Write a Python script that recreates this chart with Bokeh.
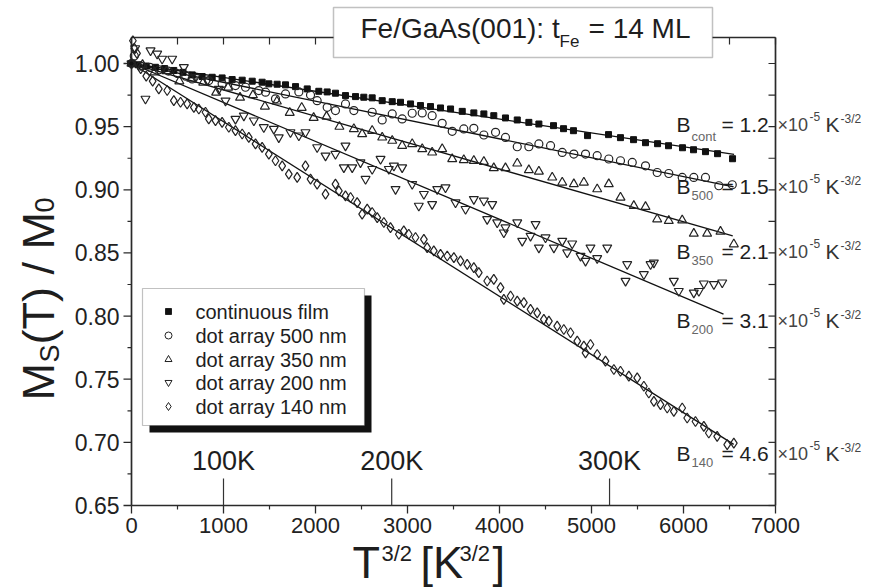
import math
from bokeh.plotting import figure
from bokeh.models import Range1d, Label, BoxAnnotation
from bokeh.core.properties import value
from bokeh.embed import file_html
from bokeh.resources import INLINE

# ---------------- data ----------------
cont_T = [0, 70, 160, 260, 360, 460, 560, 660, 768, 877, 985, 1094, 1203, 1312, 1420, 1493, 1583,
          1674, 1783, 1910, 2036, 2127, 2217, 2326, 2435, 2525, 2616, 2725, 2834, 2924, 3033, 3141,
          3250, 3359, 3468, 3595, 3721, 3830, 3938, 4065, 4193, 4319, 4428, 4587, 4696, 4804, 4957,
          5185, 5315, 5457, 5587, 5718, 5837, 5989, 6109, 6239, 6370, 6533]
cont_M = [1.000, 0.999, 0.998, 0.997, 0.996, 0.9945, 0.993, 0.991, 0.9897, 0.9891, 0.9886, 0.9873,
          0.9868, 0.9860, 0.9852, 0.9839, 0.9836, 0.9831, 0.9817, 0.9799, 0.9780, 0.9775, 0.9765,
          0.9746, 0.9738, 0.9733, 0.9728, 0.9706, 0.9698, 0.9693, 0.9680, 0.9667, 0.9659, 0.9648,
          0.9640, 0.9621, 0.9609, 0.9601, 0.9587, 0.9569, 0.9553, 0.9534, 0.9521, 0.9508, 0.9484,
          0.9468, 0.9429, 0.9437, 0.9413, 0.9397, 0.9373, 0.9365, 0.9349, 0.9333, 0.9317, 0.9302,
          0.9286, 0.9246]

d500_T = [0, 30, 100, 200, 300, 400, 500, 590, 659, 840, 985, 1130, 1239, 1384, 1457, 1565, 1674,
          1819, 1946, 2018, 2127, 2217, 2326, 2417, 2616, 2725, 2834, 2942, 3051, 3160, 3268, 3377,
          3486, 3612, 3721, 3830, 3957, 4065, 4193, 4319, 4428, 4555, 4682, 4808, 4935, 5062, 5188,
          5315, 5443, 5587, 5714, 5840, 5986, 6112, 6239, 6384, 6530]
d500_M = [1.000, 1.006, 0.998, 0.997, 0.995, 0.994, 0.992, 0.990, 0.9878, 0.9865, 0.9839, 0.9825,
          0.9812, 0.9786, 0.9773, 0.9720, 0.9759, 0.9775, 0.9750, 0.9706, 0.9653, 0.9627, 0.9680,
          0.9627, 0.9614, 0.9553, 0.9601, 0.9561, 0.9606, 0.9609, 0.9587, 0.9526, 0.9463, 0.9482,
          0.9487, 0.9434, 0.9455, 0.9415, 0.9341, 0.9341, 0.9363, 0.9349, 0.9296, 0.9283, 0.9283,
          0.9270, 0.9244, 0.9230, 0.9217, 0.9190, 0.9137, 0.9129, 0.9098, 0.9098, 0.9098, 0.9032,
          0.9040]

d350_T = [0, 120, 250, 380, 520, 650, 780, 920, 1050, 1180, 1320, 1450, 1580, 1720, 1850, 1980,
          2120, 2260, 2417, 2507, 2616, 2725, 2834, 2942, 3051, 3160, 3268, 3377, 3486, 3612, 3721,
          3830, 3938, 4065, 4193, 4319, 4428, 4573, 4682, 4808, 4917, 5062, 5188, 5315, 5460, 5587,
          5714, 5840, 5986, 6112, 6257, 6402, 6547]
d350_M = [1.000, 0.999, 0.993, 0.994, 0.986, 0.988, 0.985, 0.977, 0.981, 0.973, 0.975, 0.966,
          0.970, 0.961, 0.965, 0.957, 0.958, 0.950, 0.9482, 0.9442, 0.9468, 0.9415, 0.9389, 0.9349,
          0.9363, 0.9323, 0.9296, 0.9323, 0.9244, 0.9236, 0.9230, 0.9222, 0.9172, 0.9172, 0.9209,
          0.9156, 0.9145, 0.9098, 0.9058, 0.9045, 0.9058, 0.9005, 0.9045, 0.8939, 0.8873, 0.8865,
          0.8767, 0.8754, 0.8759, 0.8653, 0.8653, 0.8669, 0.8569]

d200_T = [0, 40, 152, 207, 279, 333, 442, 569, 696, 823, 949, 1022, 1130, 1221, 1330, 1438, 1547,
          1601, 1728, 1819, 1891, 2018, 2109, 2217, 2308, 2326, 2399, 2489, 2544, 2616, 2707, 2797,
          2852, 2870, 2942, 3051, 3123, 3178, 3268, 3323, 3413, 3522, 3631, 3721, 3830, 3866, 3921,
          3975, 4047, 4065, 4193, 4247, 4337, 4392, 4428, 4500, 4591, 4682, 4736, 4790, 4881, 4935,
          4989, 5062, 5171, 5370, 5388, 5569, 5642, 5678, 5895, 5949, 6112, 6167, 6221, 6330, 6421]
d200_M = [1.000, 1.012, 0.972, 1.0103, 1.0077, 1.0037, 1.0037, 0.9971, 0.9891, 0.9865, 0.9799,
          0.9706, 0.9561, 0.9587, 0.9548, 0.9495, 0.9482, 0.9415, 0.9455, 0.9429, 0.9455, 0.9336,
          0.9270, 0.9283, 0.9177, 0.9349, 0.9177, 0.9217, 0.9085, 0.9164, 0.9244, 0.9164, 0.9190,
          0.9005, 0.9177, 0.9045, 0.8873, 0.8966, 0.8886, 0.9005, 0.9018, 0.8899, 0.8847, 0.8926,
          0.8913, 0.8767, 0.8886, 0.8741, 0.8661, 0.8701, 0.8741, 0.8595, 0.8635, 0.8728, 0.8542,
          0.8622, 0.8542, 0.8595, 0.8503, 0.8574, 0.8476, 0.8437, 0.8542, 0.8458, 0.8542, 0.8278,
          0.8410, 0.8331, 0.8410, 0.8423, 0.8278, 0.8198, 0.8185, 0.8198, 0.8257, 0.8252, 0.8265]

d140_T = [0, 15, 30, 60, 100, 160, 230, 297, 388, 460, 533, 605, 678, 732, 804, 840, 913, 985, 1058,
          1130, 1203, 1275, 1348, 1420, 1493, 1565, 1638, 1710, 1801, 1891, 1946, 2018, 2109, 2217,
          2254, 2326, 2381, 2453, 2507, 2562, 2616, 2671, 2743, 2815, 2906, 2960, 3014, 3087, 3178,
          3214, 3286, 3359, 3432, 3504, 3576, 3649, 3721, 3775, 3866, 3938, 4011, 4047, 4120, 4193,
          4265, 4337, 4410, 4482, 4537, 4627, 4699, 4772, 4845, 4917, 4935, 4989, 5062, 5152, 5243,
          5315, 5406, 5497, 5569, 5623, 5678, 5750, 5823, 5895, 5986, 6040, 6130, 6221, 6275, 6366,
          6475, 6547]
d140_M = [1.000, 1.018, 1.012, 1.008, 0.996, 0.990, 0.986, 0.9799, 0.9786, 0.9706, 0.9693, 0.9680,
          0.9653, 0.9640, 0.9614, 0.9561, 0.9548, 0.9534, 0.9495, 0.9468, 0.9442, 0.9415, 0.9363,
          0.9336, 0.9283, 0.9230, 0.9190, 0.9124, 0.9098, 0.9190, 0.9085, 0.9045, 0.8966, 0.9045,
          0.8992, 0.8952, 0.8939, 0.8899, 0.8807, 0.8847, 0.8820, 0.8780, 0.8741, 0.8701, 0.8648,
          0.8675, 0.8648, 0.8622, 0.8608, 0.8542, 0.8516, 0.8489, 0.8476, 0.8463, 0.8437, 0.8410,
          0.8384, 0.8344, 0.8278, 0.8291, 0.8225, 0.8132, 0.8159, 0.8119, 0.8106, 0.8053, 0.8026,
          0.7974, 0.7960, 0.7921, 0.7894, 0.7868, 0.7802, 0.7762, 0.7709, 0.7775, 0.7696, 0.7643,
          0.7577, 0.7563, 0.7524, 0.7510, 0.7444, 0.7391, 0.7325, 0.7299, 0.7272, 0.7246, 0.7272,
          0.7193, 0.7165, 0.7127, 0.7074, 0.7048, 0.6982, 0.6994]

# fitted lines M = 1 - B T^{3/2}: end points as drawn
fit_names = ["cont", "500", "350", "200", "140"]
fit_B = ["1.2", "1.5", "2.1", "3.1", "4.6"]
fit_T_end = [6550, 6545, 6535, 6435, 6545]
fit_M_end = [0.928, 0.9024, 0.8635, 0.8016, 0.6984]

legend_names = ["continuous film", "dot array 500 nm", "dot array 350 nm",
                "dot array 200 nm", "dot array 140 nm"]
kelvin_marks = [100, 200, 300]

x_ticks = [0, 1000, 2000, 3000, 4000, 5000, 6000, 7000]
x_minor = [500, 1500, 2500, 3500, 4500, 5500, 6500]
y_ticks = [0.65, 0.70, 0.75, 0.80, 0.85, 0.90, 0.95, 1.00]
y_minor = [0.675, 0.725, 0.775, 0.825, 0.875, 0.925, 0.975, 1.000]

# ---------------- layout ----------------
W, H = 870, 588
FL, FR, FT, FB = 131, 775, 37, 505          # plot-box edges in pixels
X0, X1 = 0, 7000
Y0, Y1 = 0.65, 1.0206
FONT = "Liberation Sans"
INK = "#1e1e1e"
AX = "#2a2a2a"
ASC = 0.89   # distance from text top to baseline, in em


def X(px):
    return X0 + (px - FL) * (X1 - X0) / (FR - FL)


def Y(py):
    return Y0 + (FB - py) * (Y1 - Y0) / (FB - FT)


# the frame spans the whole canvas, so that texts outside the plot box are not clipped
p = figure(width=W, height=H, output_backend="svg", toolbar_location=None,
           x_range=Range1d(X(0), X(W)), y_range=Range1d(Y(H), Y(0)),
           x_axis_location=None, y_axis_location=None, min_border=0)
p.outline_line_color = None
p.xgrid.visible = False
p.ygrid.visible = False
p.background_fill_color = "white"
p.border_fill_color = "white"

# ---- axes (drawn on the data scales) ----
p.segment(x0=[X0, X0, X0, X1], y0=[Y0, Y1, Y0, Y0], x1=[X1, X1, X0, X1], y1=[Y0, Y1, Y1, Y1],
          line_color=AX, line_width=1.7)
p.segment(x0=[X0] * len(y_ticks), y0=y_ticks, x1=[X(FL - 8)] * len(y_ticks), y1=y_ticks,
          line_color=AX, line_width=1.3)
p.segment(x0=[X0] * len(y_minor), y0=y_minor, x1=[X(FL - 4)] * len(y_minor), y1=y_minor,
          line_color=AX, line_width=1.2)
p.segment(x0=x_ticks, y0=[Y0] * len(x_ticks), x1=x_ticks, y1=[Y(FB + 8)] * len(x_ticks),
          line_color=AX, line_width=1.3)
p.segment(x0=x_minor, y0=[Y0] * len(x_minor), x1=x_minor, y1=[Y(FB + 4)] * len(x_minor),
          line_color=AX, line_width=1.2)
top_t = sorted(x_ticks + x_minor)
p.segment(x0=top_t, y0=[Y1] * len(top_t), x1=top_t, y1=[Y(FT + 7)] * len(top_t),
          line_color=AX, line_width=1.2)
right_t = sorted(set(y_ticks + y_minor))
p.segment(x0=[X1] * len(right_t), y0=right_t, x1=[X(FR - 7)] * len(right_t), y1=right_t,
          line_color=AX, line_width=1.2)
p.text(x=[X(FL - 12)] * len(y_ticks), y=y_ticks, text=[f"{v:.2f}" for v in y_ticks],
       text_font=value(FONT), text_font_size=value("23px"), text_color="#222222",
       text_align="right", text_baseline="middle")
p.text(x=x_ticks, y=[Y(FB + 12)] * len(x_ticks), text=[str(v) for v in x_ticks],
       text_font=value(FONT), text_font_size=value("22px"), text_color="#222222",
       text_align="center", text_baseline="top")

# ---- fit lines ----
for te, me in zip(fit_T_end, fit_M_end):
    p.line([0, te], [1.0, me], line_color="#111111", line_width=1.3)

# ---- data ----
MK = dict(line_color="#222222", line_width=1.2, fill_color=None)
p.scatter(cont_T, cont_M, marker="square", size=6, fill_color="#111111", line_color="#111111")
p.scatter(d500_T, d500_M, marker="circle", size=8, **MK)
p.scatter(d350_T, d350_M, marker="triangle", size=9, **MK)
p.scatter(d200_T, d200_M, marker="inverted_triangle", size=9, **MK)
p.scatter(d140_T, d140_M, marker="diamond", size=10, **MK)


def lab(text, px, py, size, color=INK, align="left", angle=0.0):
    """px, py: left end and baseline of the text in pixels."""
    if angle:
        x, y = px - ASC * size, py
    else:
        x, y = px, py - ASC * size
    p.add_layout(Label(x=X(x), y=Y(y), text=text, text_font=FONT,
                       text_font_size=f"{size}px", text_color=color, text_align=align,
                       text_baseline="top", angle=angle))


# ---- temperature marks ----
for k in kelvin_marks:
    t = k ** 1.5
    p.segment(x0=[t], y0=[Y(478)], x1=[t], y1=[Y0], line_color="#333333", line_width=1.2)
    p.add_layout(Label(x=t, y=Y(470 - ASC * 27), text=f"{k}K", text_font=FONT,
                       text_font_size="27px", text_color=INK, text_align="center",
                       text_baseline="top"))

# ---- legend box with shadow ----
p.add_layout(BoxAnnotation(left=X(149), right=X(371), top=Y(295), bottom=Y(432),
                           fill_color="#111111", fill_alpha=1.0, line_color=None))
p.add_layout(BoxAnnotation(left=X(142), right=X(364), top=Y(288), bottom=Y(425),
                           fill_color="white", fill_alpha=1.0, line_color="#333333",
                           line_width=1.2))
leg_rows = [311, 335, 359, 382, 406]
leg_markers = [("square", 6, "#111111"), ("circle", 7, None), ("triangle", 7, None),
               ("inverted_triangle", 7, None), ("diamond", 8, None)]
for (mk, sz, fc), py, name in zip(leg_markers, leg_rows, legend_names):
    r = p.scatter([X(168)], [Y(py)], marker=mk, size=sz, fill_color=fc,
                  line_color="#222222", line_width=1.0)
    r.level = "overlay"
    lab(name, 195, py + 7, 20)

# ---- title box ----
p.add_layout(BoxAnnotation(left=X(333), right=X(712), top=Y(7), bottom=Y(57),
                           fill_color="white", fill_alpha=1.0, line_color="#333333",
                           line_width=1.5))
lab("Fe/GaAs(001): t", 360, 37, 28)
lab("Fe", 559, 47, 17)
lab("= 14 ML", 588, 37, 28)

# ---- B annotations on the right ----
b_base = [131, 193, 258, 327, 460]
for name, bv, by in zip(fit_names, fit_B, b_base):
    lab("B", 676, by, 21)
    lab(name, 691, by + 9, 13, color="#666666")
    lab(f"= {bv}", 721, by, 21)
    lab("\u00d710", 777, by, 18, color="#444444")
    lab("-5", 809, by - 9, 12, color="#444444")
    lab("K", 825, by, 21, color="#333333")
    lab("-3/2", 840, by - 9, 12, color="#444444")

# ---- axis titles ----
lab("T", 352, 577, 45)
lab("3/2", 381, 560, 22)
lab("[K", 420, 577, 45)
lab("3/2", 459, 560, 22)
lab("]", 492, 577, 45)

A = math.pi / 2
lab("M", 53, 400, 45, angle=A)
lab("S", 59, 362, 27, angle=A)
lab("(T) / M", 53, 344, 45, angle=A)
lab("0", 59, 212, 27, angle=A)

open("out.html", "w").write(file_html(p, INLINE))
